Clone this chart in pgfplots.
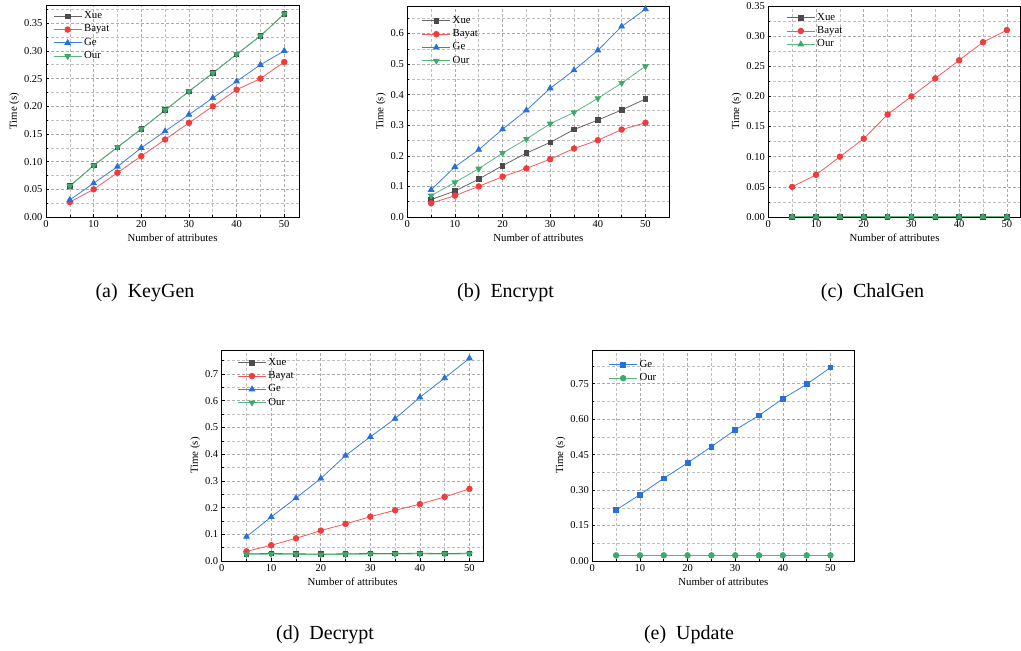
\documentclass[border=0pt]{standalone}
\usepackage{fontspec}
\setmainfont{Liberation Serif}
\usepackage{pgfplots}
\pgfplotsset{compat=1.18}
\definecolor{xuec}{HTML}{4B4B4B}
\definecolor{bayc}{HTML}{F03C3C}
\definecolor{gec}{HTML}{2670DC}
\definecolor{ourc}{HTML}{3CAA6A}
\pgfplotsset{
  base/.style={
    scale only axis, xmin=0, ymin=0,
    xtick={0,10,20,30,40,50}, minor xtick={5,15,25,35,45},
    grid=both, tick pos=left, tick align=inside,
    axis line style={line width=0.8pt, black},
    major tick length=3pt, minor tick length=1.8pt,
    every tick/.style={black, line width=0.6pt},
    major grid style={densely dashed, gray!65, line width=0.6pt},
    minor grid style={densely dashed, gray!50, line width=0.6pt},
    xlabel={Number of attributes}, ylabel={Time (s)},
    font=\fontsize{10.5}{12.6}\selectfont,
    tick label style={font=\fontsize{10.5}{12.6}\selectfont},
    label style={font=\fontsize{10.8}{13}\selectfont},
    /pgf/number format/assume math mode=true,
    xlabel style={yshift=1pt},
    ylabel style={yshift=-2pt},
    legend cell align=left,
    legend style={draw=none, fill=none, anchor=north west, inner sep=0pt,
      row sep=3pt, nodes={inner ysep=0pt, inner xsep=2pt, text height=7.5pt, text depth=2.8pt},
      font=\fontsize{10.8}{12.6}\selectfont},
    legend image code/.code={\draw[mark repeat=2,mark phase=2] plot coordinates {(0pt,0pt) (14pt,0pt) (28pt,0pt)};},
  },
  y2/.style={yticklabel style={/pgf/number format/.cd, fixed, fixed zerofill, precision=2}},
  y1/.style={yticklabel style={/pgf/number format/.cd, fixed, fixed zerofill, precision=1}},
  sxue/.style={color=xuec!85, line width=0.8pt, mark=square*, mark size=2.3pt, mark options={solid, fill=xuec, draw=xuec}},
  sbay/.style={color=bayc!85, line width=0.8pt, mark=*, mark size=2.8pt, mark options={solid, fill=bayc, draw=bayc}},
  sge/.style={color=gec!90, line width=0.8pt, mark=triangle*, mark size=3.2pt, mark options={solid, fill=gec, draw=gec}},
  sgesq/.style={color=gec!90, line width=0.8pt, mark=square*, mark size=2.4pt, mark options={solid, fill=gec, draw=gec}},
  sour/.style={color=ourc!85, line width=0.8pt, mark=triangle*, mark size=3.2pt, mark options={solid, fill=ourc, draw=ourc, rotate=180}},
  sourup/.style={color=ourc!85, line width=0.8pt, mark=triangle*, mark size=3.2pt, mark options={solid, fill=ourc, draw=ourc}},
  sourc/.style={color=ourc!85, line width=0.8pt, mark=*, mark size=2.8pt, mark options={solid, fill=ourc, draw=ourc}},
}
\begin{document}
\begin{tikzpicture}[x=1pt,y=1pt]
\useasboundingbox (0,0) rectangle (1021,-651);
% (a) KeyGen
\begin{axis}[base, y2, at={(46pt,-217pt)}, anchor=south west, width=253pt, height=212pt,
  xmax=53.1, ymax=0.383, ytick={0,0.05,0.10,0.15,0.20,0.25,0.30,0.35},
  minor ytick={0.025,0.075,0.125,0.175,0.225,0.275,0.325,0.375},
  legend style={at={(0.028,0.972)}}]
\addplot[sxue] coordinates {(5,0.056)(10,0.093)(15,0.126)(20,0.159)(25,0.193)(30,0.227)(35,0.260)(40,0.294)(45,0.327)(50,0.367)};
\addplot[sbay] coordinates {(5,0.027)(10,0.050)(15,0.080)(20,0.110)(25,0.140)(30,0.170)(35,0.200)(40,0.230)(45,0.250)(50,0.280)};
\addplot[sge] coordinates {(5,0.031)(10,0.061)(15,0.091)(20,0.125)(25,0.155)(30,0.185)(35,0.215)(40,0.245)(45,0.275)(50,0.300)};
\addplot[sour] coordinates {(5,0.056)(10,0.093)(15,0.126)(20,0.159)(25,0.193)(30,0.227)(35,0.260)(40,0.294)(45,0.327)(50,0.367)};
\legend{Xue,Bayat,Ge,Our}
\end{axis}
% (b) Encrypt
\begin{axis}[base, y1, at={(407.3pt,-217pt)}, anchor=south west, width=262pt, height=211pt,
  xmax=55, ymax=0.69, ytick={0,0.1,0.2,0.3,0.4,0.5,0.6},
  minor ytick={0.05,0.15,0.25,0.35,0.45,0.55,0.65},
  legend style={at={(0.055,0.955)}}]
\addplot[sxue] coordinates {(5,0.057)(10,0.085)(15,0.124)(20,0.168)(25,0.209)(30,0.244)(35,0.286)(40,0.317)(45,0.350)(50,0.386)};
\addplot[sbay] coordinates {(5,0.045)(10,0.070)(15,0.100)(20,0.132)(25,0.159)(30,0.189)(35,0.224)(40,0.251)(45,0.286)(50,0.308)};
\addplot[sge] coordinates {(5,0.089)(10,0.164)(15,0.220)(20,0.287)(25,0.349)(30,0.421)(35,0.480)(40,0.545)(45,0.623)(50,0.680)};
\addplot[sour] coordinates {(5,0.070)(10,0.113)(15,0.158)(20,0.209)(25,0.255)(30,0.305)(35,0.342)(40,0.388)(45,0.438)(50,0.493)};
\legend{Xue,Bayat,Ge,Our}
\end{axis}
% (c) ChalGen
\begin{axis}[base, y2, at={(768.3pt,-217pt)}, anchor=south west, width=252.4pt, height=211pt,
  xmax=52.9, ymax=0.35, ytick={0,0.05,0.10,0.15,0.20,0.25,0.30,0.35},
  minor ytick={0.025,0.075,0.125,0.175,0.225,0.275,0.325},
  legend style={at={(0.071,0.97)}}]
\addplot[sxue] coordinates {(5,0.0005)(10,0.0005)(15,0.0005)(20,0.0005)(25,0.0005)(30,0.0005)(35,0.0005)(40,0.0005)(45,0.0005)(50,0.0005)};
\addplot[sbay] coordinates {(5,0.050)(10,0.070)(15,0.100)(20,0.130)(25,0.170)(30,0.200)(35,0.230)(40,0.260)(45,0.290)(50,0.310)};
\addplot[sourup] coordinates {(5,0.0005)(10,0.0005)(15,0.0005)(20,0.0005)(25,0.0005)(30,0.0005)(35,0.0005)(40,0.0005)(45,0.0005)(50,0.0005)};
\legend{Xue,Bayat,Our}
\end{axis}
% (d) Decrypt
\begin{axis}[base, y1, at={(221.7pt,-561pt)}, anchor=south west, width=261.6pt, height=211pt,
  xmax=52.8, ymax=0.79, ytick={0,0.1,0.2,0.3,0.4,0.5,0.6,0.7},
  minor ytick={0.05,0.15,0.25,0.35,0.45,0.55,0.65,0.75},
  legend style={at={(0.06,0.965)}}]
\addplot[sxue] coordinates {(5,0.027)(10,0.028)(15,0.027)(20,0.026)(25,0.027)(30,0.028)(35,0.028)(40,0.029)(45,0.028)(50,0.029)};
\addplot[sbay] coordinates {(5,0.036)(10,0.059)(15,0.085)(20,0.114)(25,0.139)(30,0.166)(35,0.190)(40,0.213)(45,0.240)(50,0.270)};
\addplot[sge] coordinates {(5,0.091)(10,0.165)(15,0.236)(20,0.309)(25,0.395)(30,0.465)(35,0.533)(40,0.613)(45,0.685)(50,0.759)};
\addplot[sour] coordinates {(5,0.025)(10,0.026)(15,0.025)(20,0.024)(25,0.025)(30,0.026)(35,0.026)(40,0.027)(45,0.026)(50,0.027)};
\legend{Xue,Bayat,Ge,Our}
\end{axis}
% (e) Update
\begin{axis}[base, y2, at={(592.3pt,-561pt)}, anchor=south west, width=262pt, height=211pt,
  xmax=55, ymax=0.893, ytick={0,0.15,0.30,0.45,0.60,0.75},
  minor ytick={0.075,0.225,0.375,0.525,0.675,0.825},
  legend style={at={(0.062,0.955)}}]
\addplot[sgesq] coordinates {(5,0.216)(10,0.281)(15,0.350)(20,0.415)(25,0.484)(30,0.555)(35,0.616)(40,0.687)(45,0.748)(50,0.819)};
\addplot[sourc] coordinates {(5,0.024)(10,0.024)(15,0.024)(20,0.024)(25,0.024)(30,0.024)(35,0.024)(40,0.024)(45,0.024)(50,0.024)};
\legend{Ge,Our}
\end{axis}
\begin{scope}[every node/.style={font=\fontsize{20}{23}\selectfont, inner sep=0pt}]
\node at (145pt,-293pt) {(a)\hspace{0.5em}KeyGen};
\node at (505.5pt,-293pt) {(b)\hspace{0.5em}Encrypt};
\node at (872.5pt,-293pt) {(c)\hspace{0.5em}ChalGen};
\node at (325pt,-635pt) {(d)\hspace{0.5em}Decrypt};
\node at (689pt,-635pt) {(e)\hspace{0.5em}Update};
\end{scope}
\end{tikzpicture}
\end{document}
